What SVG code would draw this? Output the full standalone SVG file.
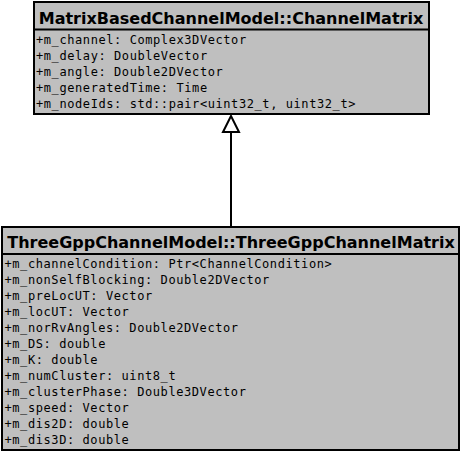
<svg xmlns="http://www.w3.org/2000/svg" width="461" height="453" viewBox="0 0 461 453">
<style>
.box{fill:#bfbfbf;stroke:#000;stroke-width:2}
.sep{stroke:#000;stroke-width:2}
.title{font-family:"DejaVu Sans",sans-serif;font-weight:bold;font-size:16px;text-anchor:middle;fill:#000}
.attr{font-family:"DejaVu Sans Mono",monospace;font-size:12px;letter-spacing:0.58px;fill:#000}
.edge{stroke:#000;stroke-width:2;fill:none}
.head{stroke:#000;stroke-width:2;fill:#fff}
</style>
<rect width="461" height="453" fill="#fff"/>
<g id="connectors">
<line class="edge" x1="231" y1="132" x2="231" y2="227"/>
<polygon class="head" points="231,116 223,132 239,132"/>
</g>
<g id="node-channelmatrix">
<rect class="box" x="34" y="2" width="395" height="112"/>
<line class="sep" x1="34" y1="29.5" x2="429" y2="29.5"/>
<text class="title" x="231" y="24">MatrixBasedChannelModel::ChannelMatrix</text>
<text class="attr" x="36" y="44">+m_channel: Complex3DVector</text>
<text class="attr" x="36" y="60">+m_delay: DoubleVector</text>
<text class="attr" x="36" y="76">+m_angle: Double2DVector</text>
<text class="attr" x="36" y="92">+m_generatedTime: Time</text>
<text class="attr" x="36" y="108">+m_nodeIds: std::pair&lt;uint32_t, uint32_t&gt;</text>
</g>
<g id="node-threegppchannelmatrix">
<rect class="box" x="2" y="227" width="457" height="223"/>
<line class="sep" x1="2" y1="254" x2="459" y2="254"/>
<text class="title" x="231" y="248">ThreeGppChannelModel::ThreeGppChannelMatrix</text>
<text class="attr" x="4.5" y="268">+m_channelCondition: Ptr&lt;ChannelCondition&gt;</text>
<text class="attr" x="4.5" y="284">+m_nonSelfBlocking: Double2DVector</text>
<text class="attr" x="4.5" y="300">+m_preLocUT: Vector</text>
<text class="attr" x="4.5" y="316">+m_locUT: Vector</text>
<text class="attr" x="4.5" y="332">+m_norRvAngles: Double2DVector</text>
<text class="attr" x="4.5" y="348">+m_DS: double</text>
<text class="attr" x="4.5" y="364">+m_K: double</text>
<text class="attr" x="4.5" y="380">+m_numCluster: uint8_t</text>
<text class="attr" x="4.5" y="396">+m_clusterPhase: Double3DVector</text>
<text class="attr" x="4.5" y="412">+m_speed: Vector</text>
<text class="attr" x="4.5" y="428">+m_dis2D: double</text>
<text class="attr" x="4.5" y="444">+m_dis3D: double</text>
</g>
</svg>
